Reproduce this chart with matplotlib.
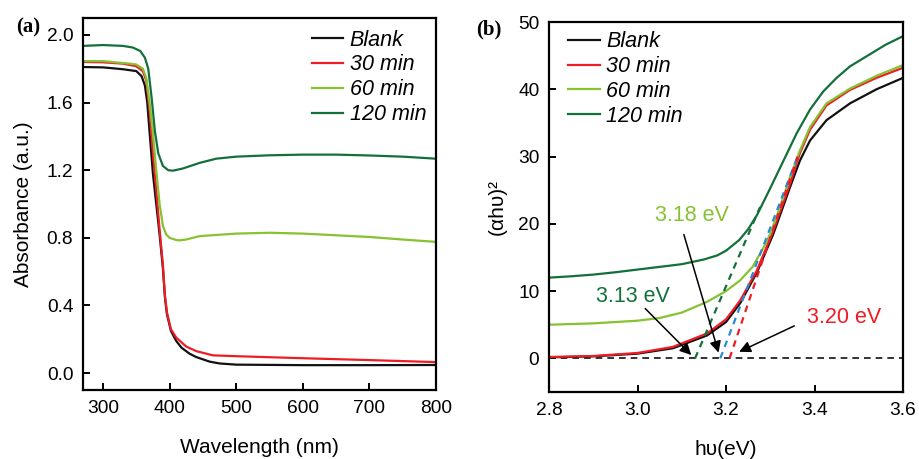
import matplotlib
matplotlib.use("Agg")
import matplotlib.pyplot as plt

plt.rcParams['font.family'] = ['Liberation Sans', 'DejaVu Sans']

# ---------------- Panel (a) data ----------------
wl_blank = [270, 300, 330, 350, 358, 363, 366.5, 370.5, 375, 380, 385, 390, 393, 396, 402, 410, 418, 430, 440, 460, 475, 500, 600, 700, 800]
abs_blank = [1.81, 1.808, 1.797, 1.786, 1.756, 1.70, 1.60, 1.40, 1.18, 1.0, 0.82, 0.62, 0.45, 0.35, 0.25, 0.19, 0.15, 0.115, 0.095, 0.068, 0.057, 0.05, 0.047, 0.047, 0.048]

wl_30 = [270, 300, 330, 350, 360, 365, 370, 375, 380, 385, 390, 393, 396, 402, 410, 425, 440, 465, 500, 600, 700, 800]
abs_30 = [1.84, 1.838, 1.83, 1.815, 1.785, 1.73, 1.55, 1.30, 1.08, 0.85, 0.64, 0.46, 0.36, 0.26, 0.21, 0.157, 0.13, 0.105, 0.10, 0.088, 0.077, 0.065]

wl_60 = [270, 300, 340, 350, 360, 365, 370, 375, 380, 385, 390, 395, 400, 410, 415, 425, 445, 500, 550, 600, 650, 700, 750, 800]
abs_60 = [1.845, 1.845, 1.83, 1.825, 1.80, 1.745, 1.60, 1.42, 1.20, 1.0, 0.87, 0.82, 0.80, 0.787, 0.785, 0.79, 0.81, 0.825, 0.83, 0.825, 0.815, 0.805, 0.79, 0.776]

wl_120 = [270, 300, 330, 345, 356, 363, 368, 373, 378, 383, 390, 398, 405, 420, 445, 470, 500, 550, 600, 650, 700, 750, 800]
abs_120 = [1.935, 1.94, 1.935, 1.925, 1.905, 1.865, 1.80, 1.63, 1.43, 1.30, 1.225, 1.20, 1.197, 1.21, 1.243, 1.268, 1.28, 1.288, 1.292, 1.292, 1.287, 1.28, 1.268]

# ---------------- Panel (b) data ----------------
hv_blank = [2.8, 2.9, 3.0, 3.08, 3.157, 3.2, 3.232, 3.27, 3.307, 3.345, 3.367, 3.39, 3.427, 3.48, 3.54, 3.6]
t_blank = [0.15, 0.3, 0.7, 1.5, 3.4, 5.4, 8.2, 12.8, 18.5, 25.5, 29.4, 32.4, 35.4, 37.9, 40.0, 41.7]

hv_30 = [2.8, 2.9, 3.0, 3.08, 3.157, 3.2, 3.232, 3.27, 3.307, 3.345, 3.367, 3.39, 3.427, 3.48, 3.54, 3.6]
t_30 = [0.2, 0.35, 0.8, 1.7, 3.7, 5.8, 8.6, 13.1, 19.0, 26.0, 30.5, 34.0, 37.6, 39.9, 41.7, 43.2]

hv_60 = [2.8, 2.9, 3.0, 3.05, 3.1, 3.157, 3.2, 3.232, 3.26, 3.285, 3.30, 3.322, 3.345, 3.367, 3.39, 3.427, 3.48, 3.54, 3.6]
t_60 = [5.0, 5.2, 5.6, 6.0, 6.8, 8.4, 10.0, 11.6, 13.6, 16.5, 18.5, 22.5, 27.0, 30.9, 34.4, 37.9, 40.1, 42.0, 43.6]

hv_120 = [2.8, 2.85, 2.9, 2.95, 3.0, 3.05, 3.1, 3.15, 3.18, 3.2, 3.23, 3.25, 3.27, 3.30, 3.33, 3.36, 3.39, 3.42, 3.45, 3.48, 3.52, 3.56, 3.6]
t_120 = [12.0, 12.2, 12.45, 12.8, 13.2, 13.6, 14.0, 14.7, 15.3, 16.0, 17.6, 19.2, 21.3, 25.3, 29.4, 33.5, 37.0, 39.7, 41.7, 43.4, 45.0, 46.6, 47.9]

# tangent (extrapolation) lines: [x0, x1], [y0, y1]
tan_120_x = [3.13, 3.277]
tan_120_y = [0, 22.5]
tan_60_x = [3.187, 3.364]
tan_60_y = [0, 30.4]
tan_30_x = [3.208, 3.362]
tan_30_y = [0, 30.0]

legend_labels = ['Blank', '30 min', '60 min', '120 min']
C_BLACK = '#111111'
C_RED = '#ee1c25'
C_LGREEN = '#86c232'
C_DGREEN = '#13703a'
C_BLUE = '#2b8ad6'
colors = [C_BLACK, C_RED, C_LGREEN, C_DGREEN]

fig = plt.figure(figsize=(9.19, 4.59), dpi=100)
axA = fig.add_axes([0.0903, 0.1503, 0.3841, 0.8105])
axB = fig.add_axes([0.5974, 0.146, 0.3852, 0.806])

TICK_FS = 13.8
LAB_FS = 15
LEG_FS = 15.5

def style(ax):
    for s in ax.spines.values():
        s.set_linewidth(1.6)
    ax.tick_params(direction='in', length=5, width=1.4, labelsize=TICK_FS, pad=7,
                   top=False, right=False)

leg_kw = dict(frameon=False, prop={'style': 'italic', 'size': LEG_FS},
              handlelength=1.45, handletextpad=0.3, labelspacing=0.18,
              borderaxespad=0.0, borderpad=0.0)

# Panel (a)
lw = 1.6
for x, y, c, lab in zip([wl_blank, wl_30, wl_60, wl_120], [abs_blank, abs_30, abs_60, abs_120], colors, legend_labels):
    axA.plot(x, y, color=c, lw=lw, label=lab)
axA.set_xlim(270, 800)
axA.set_ylim(-0.1, 2.1)
axA.set_xticks([300, 400, 500, 600, 700, 800])
axA.set_yticks([0.0, 0.4, 0.8, 1.2, 1.6, 2.0])
axA.set_yticklabels(['0.0', '0.4', '0.8', '1.2', '1.6', '2.0'])
style(axA)
axA.set_xlabel('Wavelength (nm)', fontsize=LAB_FS, labelpad=15)
axA.set_ylabel('Absorbance (a.u.)', fontsize=LAB_FS, labelpad=10)
axA.legend(loc='upper left', bbox_to_anchor=(0.649, 0.969), **leg_kw)

# Panel (b)
axB.plot([2.8, 3.6], [0, 0], color=C_BLACK, lw=1.2, ls=(0, (4, 3)))
for x, y, c, lab in zip([hv_blank, hv_30, hv_60, hv_120], [t_blank, t_30, t_60, t_120], colors, legend_labels):
    axB.plot(x, y, color=c, lw=lw, label=lab)
axB.plot(tan_120_x, tan_120_y, color=C_DGREEN, lw=1.6, ls=(0, (3, 2.5)))
axB.plot(tan_60_x, tan_60_y, color=C_BLUE, lw=1.6, ls=(0, (3, 2.5)))
axB.plot(tan_30_x, tan_30_y, color=C_RED, lw=1.6, ls=(0, (3, 2.5)))
axB.set_xlim(2.8, 3.6)
axB.set_ylim(-5, 50)
axB.set_xticks([2.8, 3.0, 3.2, 3.4, 3.6])
axB.set_xticklabels(['2.8', '3.0', '3.2', '3.4', '3.6'])
axB.set_yticks([0, 10, 20, 30, 40, 50])
style(axB)
axB.set_xlabel('h\u03c5(eV)', fontsize=LAB_FS, labelpad=15)
axB.set_ylabel('(\u03b1h\u03c5)\u00b2', fontsize=LAB_FS, labelpad=8)
handles, labels = axB.get_legend_handles_labels()
axB.legend(handles[:4], labels[:4], loc='upper left', bbox_to_anchor=(0.055, 0.975), **leg_kw)

arrowprops = dict(arrowstyle='-|>', color='black', lw=1.1, mutation_scale=17)
axB.annotate('3.18 eV', xy=(3.185, 0.45), xytext=(3.124, 21.3), color=C_LGREEN,
             fontsize=15.5, ha='center', va='center')
axB.annotate('', xy=(3.185, 0.45), xytext=(3.103, 18.8), arrowprops=arrowprops)
axB.annotate('3.13 eV', xy=(3.126, 0.2), xytext=(2.990, 9.25), color=C_DGREEN,
             fontsize=15.5, ha='center', va='center')
axB.annotate('', xy=(3.126, 0.2), xytext=(3.013, 7.7), arrowprops=arrowprops)
axB.annotate('3.20 eV', xy=(3.224, 0.8), xytext=(3.467, 6.0), color=C_RED,
             fontsize=15.5, ha='center', va='center')
axB.annotate('', xy=(3.224, 0.8), xytext=(3.360, 5.0), arrowprops=arrowprops)

fig.text(28 / 919, 1 - 27 / 459, '(a)', fontsize=15, fontweight='bold',
         family='Liberation Serif', ha='center', va='center')
fig.text(489 / 919, 1 - 29 / 459, '(b)', fontsize=15, fontweight='bold',
         family='Liberation Serif', ha='center', va='center')

fig.savefig('out.png', dpi=100)
